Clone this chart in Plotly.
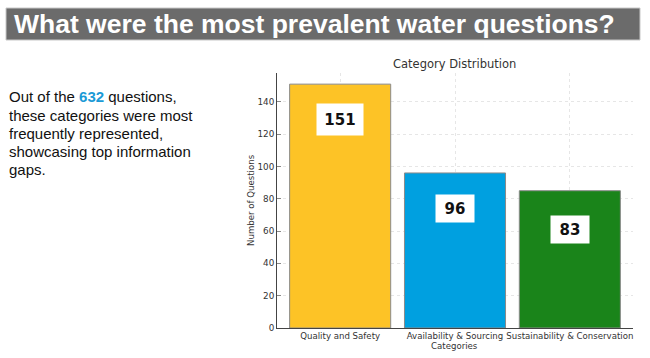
import plotly.graph_objects as go

W, H = 650, 358

categories = ["Quality and Safety", "Availability & Sourcing", "Sustainability & Conservation"]
bar_values = [151, 96, 85]
label_values = [151, 96, 83]
bar_colors = ["#FDC326", "#00A0E0", "#1A841A"]
y_ticks = [0, 20, 40, 60, 80, 100, 120, 140]
intro_lines = [
    "Out of the <b><span style='color:#1A9AD6'>632</span></b> questions,",
    "these categories were most",
    "frequently represented,",
    "showcasing top information",
    "gaps.",
]

def px(x):
    return x / W

def py(y):
    return 1 - y / H

fig = go.Figure()
fig.add_trace(go.Bar(
    x=list(range(len(categories))),
    y=bar_values,
    marker=dict(color=bar_colors, line=dict(color="#8a8a8a", width=1)),
    width=0.88,
    hoverinfo="skip",
))

# value label boxes
for i, v in enumerate(label_values):
    big = v >= 100
    fig.add_annotation(
        x=i, y=v - 22, xref="x", yref="y",
        xanchor="center", yanchor="middle",
        text="<b>%d</b>" % v, showarrow=False,
        font=dict(family="DejaVu Sans", size=15, color="#111111"),
        bgcolor="white", borderpad=0,
        width=46 if big else 38, height=31 if big else 27,
    )

fig.update_layout(
    width=W, height=H,
    margin=dict(l=0, r=0, t=0, b=0),
    paper_bgcolor="white", plot_bgcolor="white",
    showlegend=False,
    xaxis=dict(
        domain=[px(277), px(633)],
        range=[-0.55, 2.55],
        tickmode="array",
        tickvals=list(range(len(categories))),
        ticktext=categories,
        tickangle=0,
        tickfont=dict(family="DejaVu Sans", size=8.6, color="#333333"),
        showline=True, linecolor="#444444", linewidth=1,
        showgrid=True, gridcolor="#e6e6e6", griddash="dot",
        ticks="", automargin=False, zeroline=False,
    ),
    yaxis=dict(
        domain=[1 - 328 / H, 1 - 72.5 / H],
        range=[0, 158.2],
        tickmode="array", tickvals=y_ticks,
        tickfont=dict(family="DejaVu Sans", size=8.8, color="#333333"),
        showline=True, linecolor="#444444", linewidth=1,
        showgrid=True, gridcolor="#e6e6e6", griddash="dot",
        ticks="inside", ticklen=4, tickcolor="#888888",
        automargin=False, zeroline=False,
    ),
)

# axis titles and chart title
fig.add_annotation(x=px(455), y=py(64), xref="paper", yref="paper",
                   xanchor="center", yanchor="middle",
                   text="Category Distribution", showarrow=False,
                   font=dict(family="DejaVu Sans", size=11.5, color="#333333"))
fig.add_annotation(x=px(455), y=py(346), xref="paper", yref="paper",
                   xanchor="center", yanchor="middle",
                   text="Categories", showarrow=False,
                   font=dict(family="DejaVu Sans", size=8.6, color="#333333"))
fig.add_annotation(x=px(251), y=py(200), xref="paper", yref="paper",
                   xanchor="center", yanchor="middle",
                   text="Number of Questions", showarrow=False, textangle=-90,
                   font=dict(family="DejaVu Sans", size=8.6, color="#333333"))

# header bar
fig.add_shape(type="rect", xref="paper", yref="paper",
              x0=px(6), x1=px(640), y0=py(40), y1=py(8),
              fillcolor="#6B6B6B", line=dict(color="#c8c8c8", width=1), layer="below")
fig.add_annotation(x=px(12), y=py(24), xref="paper", yref="paper",
                   xanchor="left", yanchor="middle",
                   text="<b>What were the most prevalent water questions?</b>",
                   showarrow=False,
                   font=dict(family="Liberation Sans", size=26.5, color="white"))

# left description, one annotation per line for exact spacing
for k, line in enumerate(intro_lines):
    fig.add_annotation(x=px(7), y=py(97 + 18.2 * k), xref="paper", yref="paper",
                       xanchor="left", yanchor="middle", align="left",
                       text=line, showarrow=False,
                       font=dict(family="Liberation Sans", size=15, color="#111111"))

fig.write_html("out.html", config={"displayModeBar": False},
               post_script="document.body.style.margin='0';")
